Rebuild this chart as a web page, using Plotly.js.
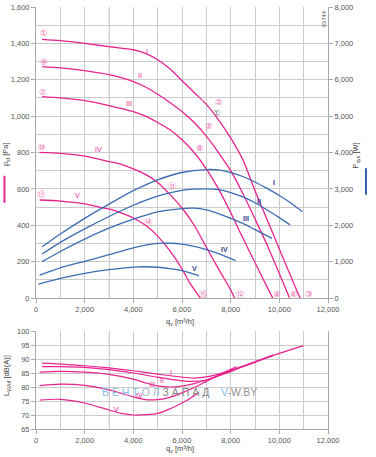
<!DOCTYPE html>
<html><head><meta charset="utf-8">
<script src="https://cdn.plot.ly/plotly-3.0.1.min.js"></script>
<style>html,body{margin:0;padding:0;background:#fff}#chart{width:376px;height:457px}</style>
</head><body><div id="chart"></div>
<script>
// ---- Pressure curves (q [m3/h], p_sf [Pa]) ----
const qP1 = [250,1000,2000,3000,4000,4500,5000,5500,6000,6500,7000,7500,8000,8500,9000,9500,10000,10500,10850];
const pP1 = [1422,1415,1400,1382,1365,1345,1310,1260,1195,1130,1065,980,880,760,590,430,270,110,0];
const qP2 = [250,1000,2000,3000,4000,4500,5000,5500,6000,6500,7000,7500,8000,8500,9000,9500,10000,10420];
const pP2 = [1272,1265,1250,1228,1190,1160,1120,1075,1025,965,890,800,700,575,435,290,135,0];
const qP3 = [250,1000,2000,3000,4000,4500,5000,5500,6000,6500,7000,7500,8000,8500,9000,9500,9729];
const pP3 = [1107,1100,1085,1058,1025,1000,965,925,870,800,710,600,470,330,195,60,0];
const qP4 = [150,1000,2000,3000,3500,4000,4500,5000,5500,6000,6500,7000,7500,8000,8160];
const pP4 = [801,795,780,750,735,710,680,635,570,495,400,280,160,45,0];
const qP5 = [150,1000,2000,2600,3000,3500,4000,4500,5000,5500,6000,6330,6750];
const pP5 = [539,533,518,500,490,468,440,400,340,260,160,80,0];

// ---- Power curves (q, P_sys [W]) ----
const qW1 = [250,1000,2000,3000,4000,5000,6000,7000,7500,8000,8500,9000,9500,10000,10500,10950];
const wW1 = [1410,1760,2190,2580,2950,3250,3450,3530,3520,3450,3340,3190,3010,2820,2600,2370];
const qW2 = [250,1000,2000,3000,4000,5000,6000,7000,7500,8000,8500,9000,9500,10000,10440];
const wW2 = [1210,1530,1900,2240,2550,2800,2960,3000,2980,2900,2780,2620,2420,2210,2010];
const qW3 = [250,1000,2000,3000,4000,5000,6000,6500,7000,7500,8000,8500,9000,9700];
const wW3 = [1000,1280,1620,1920,2170,2370,2460,2470,2420,2320,2190,2050,1880,1640];
const qW4 = [150,1000,2000,3000,4000,5000,5500,6000,6500,7000,7500,8200];
const wW4 = [630,830,1010,1190,1380,1500,1505,1480,1420,1330,1220,1030];
const qW5 = [100,1000,2000,3000,4000,4500,5000,5500,6000,6300,6700];
const wW5 = [380,540,680,780,850,860,845,810,755,700,610];

// ---- Sound curves (q, L_WA [dB(A)]) ----
const qS1 = [250,1000,2000,3000,4000,5000,6000,6500,7000,7500,8000,9000,10000,10990];
const dS1 = [88.5,88.2,87.6,86.8,85.8,84.6,83.5,83.2,83.6,84.6,86.0,89.0,92.0,94.8];
const qS2 = [250,1000,2000,3000,4000,5000,6000,6500,7000,7500,8000,9000,9750];
const dS2 = [87.3,87.3,87.0,86.2,85.0,83.5,82.2,82.0,82.5,84.0,85.8,88.8,91.5];
const qS3 = [150,1000,2000,3000,4000,4500,5000,5500,6000,6500,7000,7500,8000,9000,9700];
const dS3 = [85.3,85.6,85.3,84.5,82.8,81.5,80.4,80.0,80.3,81.2,82.5,84.0,85.5,89.0,91.2];
const qS4 = [150,1000,2000,3000,4000,4500,5000,5500,6000,6500,7000,7500,8000,8250];
const dS4 = [80.5,81.0,80.6,79.0,76.5,75.5,75.5,76.3,77.9,79.8,82.0,84.2,86.3,87.3];
const qS5 = [150,1000,2000,3000,3500,4000,4500,5000,5500,6000,6330,6700];
const dS5 = [75.3,75.6,74.3,71.8,70.6,70.0,70.1,70.6,72.2,74.3,75.9,78.0];

// ---- Label text ----
const curveNames = ['I','II','III','IV','V'];
const circledStart = ['①','④','⑦','⑩','⑬'];
const circledMid = ['②','⑤','⑧','⑪','⑭'];
const circledEnd = ['③','⑥','⑨','⑫','⑮'];

const PINK = '#e8238f', BLUE = '#3c6db3', NAVY = '#2f3f94';
const F = 'Liberation Sans, Arial, sans-serif';
const CF = 'DejaVu Sans, Noto Sans CJK JP, sans-serif';

const traces = [];
const P = [[qP1,pP1],[qP2,pP2],[qP3,pP3],[qP4,pP4],[qP5,pP5]];
const W = [[qW1,wW1],[qW2,wW2],[qW3,wW3],[qW4,wW4],[qW5,wW5]];
const S = [[qS1,dS1],[qS2,dS2],[qS3,dS3],[qS4,dS4],[qS5,dS5]];
P.forEach((c,i)=>traces.push({x:c[0],y:c[1],xaxis:'x',yaxis:'y',mode:'lines',line:{color:PINK,width:1.3,shape:'spline',smoothing:0.8},name:'p '+curveNames[i],hoverinfo:'skip'}));
W.forEach((c,i)=>traces.push({x:c[0],y:c[1],xaxis:'x',yaxis:'y2',mode:'lines',line:{color:BLUE,width:1.3,shape:'spline',smoothing:0.8},name:'P '+curveNames[i],hoverinfo:'skip'}));
S.forEach((c,i)=>traces.push({x:c[0],y:c[1],xaxis:'x2',yaxis:'y3',mode:'lines',line:{color:PINK,width:1.2,shape:'spline',smoothing:0.8},name:'L '+curveNames[i],hoverinfo:'skip'}));

// label positions (data coords)
const pLab = [[4549,1354],[4274,1221],[3834,1071],[2560,819],[1714,561]];
const wLab = [[9793,3181],[9164,2667],[8630,2191],[7738,1347],[6505,816]];
const sLab = [[5536,85.3],[5190,82.5],[4747,81.0],[4245,77.1],[3288,72.0]];
const startPos = [[341,1455],[341,1299],[300,1134],[259,832],[234,570]];
const midPos = [[7533,1079],[7122,946],[6740,823],[5618,617],[4632,418]];
const endPos = [[11219,22],[10603,22],[9904,22],[8384,22],[6863,22]];

const ann = [];
const A = (o)=>ann.push(Object.assign({showarrow:false,xanchor:'center',yanchor:'middle'},o));
curveNames.forEach((n,i)=>{
  A({x:pLab[i][0],y:pLab[i][1],xref:'x',yref:'y',text:n,font:{family:F,size:7,color:PINK}});
  A({x:wLab[i][0],y:wLab[i][1],xref:'x',yref:'y2',text:'<b>'+n+'</b>',font:{family:F,size:7,color:NAVY}});
  A({x:sLab[i][0],y:sLab[i][1],xref:'x2',yref:'y3',text:n,font:{family:F,size:7,color:PINK}});
  A({x:startPos[i][0],y:startPos[i][1],xref:'x',yref:'y',text:circledStart[i],font:{family:CF,size:8.5,color:'#f06aae'}});
  A({x:midPos[i][0],y:midPos[i][1],xref:'x',yref:'y',text:circledMid[i],font:{family:CF,size:8.5,color:'#f06aae'}});
  A({x:endPos[i][0],y:endPos[i][1],xref:'x',yref:'y',text:circledEnd[i],font:{family:CF,size:8.5,color:'#f06aae'}});
});
A({x:7426,y:1019,xref:'x',yref:'y',text:'①',font:{family:CF,size:8.5,color:'#777'}});
// axis titles
A({x:0.493,y:0.2536,xref:'paper',yref:'paper',text:'q<sub>v</sub> [m³/h]',font:{family:F,size:7.5,color:'#444'}});
A({x:0.493,y:-0.047,xref:'paper',yref:'paper',text:'q<sub>v</sub> [m³/h]',font:{family:F,size:7.5,color:'#444'}});
A({x:-0.102,y:0.652,xref:'paper',yref:'paper',text:'p<sub>sf</sub> [Pa]',textangle:-90,font:{family:F,size:7.5,color:'#444'}});
A({x:1.096,y:0.648,xref:'paper',yref:'paper',text:'P<sub>sys</sub> [W]',textangle:-90,font:{family:F,size:7.5,color:'#444'}});
A({x:-0.099,y:0.126,xref:'paper',yref:'paper',text:'L<sub>WA4</sub> [dB(A)]',textangle:-90,font:{family:F,size:7.5,color:'#444'}});
A({x:0.988,y:0.9715,xref:'paper',yref:'paper',text:'93744',textangle:-90,font:{family:F,size:6,color:'#555'}});
// watermark
A({x:0.49,y:0.0877,xref:'paper',yref:'paper',text:'<span style="color:#86c0e8">В Е Н Т </span><span style="color:#a3b6c8">О Л </span><span style="color:#858585">З А П А Д</span>    <span style="color:#86c0e8">V</span><span style="color:#959595">-W.BY</span>',font:{family:F,size:10.5,color:'#888'}});

const grid = '#cbcbcb', ax = '#aaaaaa', tf = {family:F,size:7.5,color:'#555'};
const xcommon = {range:[0,12000],dtick:2000,tick0:0,tickformat:',d',showgrid:true,gridcolor:grid,gridwidth:1,
  minor:{dtick:1000,showgrid:true,gridcolor:grid,ticks:''},showline:true,linecolor:ax,ticks:'outside',ticklen:4,tickcolor:ax,tickfont:tf,zeroline:false,fixedrange:true};
const layout = {
  width:376,height:457,margin:{l:36,r:48,t:7,b:28},paper_bgcolor:'#fff',plot_bgcolor:'#fff',showlegend:false,
  xaxis:Object.assign({},xcommon,{anchor:'y',domain:[0,1]}),
  xaxis2:Object.assign({},xcommon,{anchor:'y3',domain:[0,1]}),
  yaxis:{domain:[0.3104,1],range:[0,1600],dtick:200,tickformat:',d',showgrid:true,gridcolor:grid,minor:{dtick:100,showgrid:true,gridcolor:grid},
    showline:true,linecolor:ax,ticks:'outside',ticklen:4,tickcolor:ax,tickfont:tf,zeroline:false,fixedrange:true},
  yaxis2:{overlaying:'y',side:'right',anchor:'x',range:[0,8000],dtick:1000,tickformat:',d',showgrid:false,showline:true,linecolor:ax,
    ticks:'outside',ticklen:4,tickcolor:ax,tickfont:tf,zeroline:false,fixedrange:true},
  yaxis3:{domain:[0,0.2322],anchor:'x2',range:[65,100],dtick:5,showgrid:true,gridcolor:grid,showline:true,linecolor:ax,mirror:true,
    ticks:'outside',ticklen:4,tickcolor:ax,tickfont:tf,zeroline:false,fixedrange:true},
  annotations:ann,
  shapes:[
    {type:'rect',xref:'x',yref:'paper',x0:2970,x1:3030,y0:0.3104,y1:1,fillcolor:'#ececec',line:{width:0},layer:'below'},
    {type:'rect',xref:'x2',yref:'paper',x0:2970,x1:3030,y0:0,y1:0.2322,fillcolor:'#ececec',line:{width:0},layer:'below'},
    {type:'line',xref:'paper',yref:'paper',x0:-0.108,x1:-0.108,y0:0.536,y1:0.600,line:{color:PINK,width:2}},
    {type:'line',xref:'paper',yref:'paper',x0:1.130,x1:1.130,y0:0.555,y1:0.618,line:{color:'#2f5fae',width:2}}
  ]
};
Plotly.newPlot('chart',traces,layout,{displayModeBar:false,staticPlot:true});
</script></body></html>
